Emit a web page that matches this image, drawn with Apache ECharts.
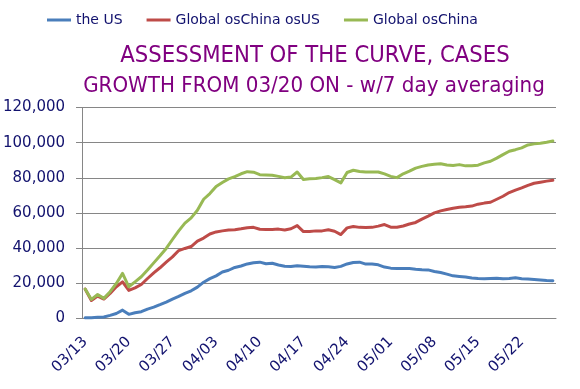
<!DOCTYPE html>
<html><head><meta charset="utf-8">
<script src="https://cdn.jsdelivr.net/npm/echarts@6/dist/echarts.min.js"></script>
<style>html,body{margin:0;padding:0;background:#fff}#c{width:580px;height:389px}</style>
</head><body><div id="c"></div>
<script>
const categories = [
'03/13','03/14','03/15','03/16','03/17','03/18','03/19','03/20','03/21','03/22','03/23','03/24','03/25','03/26','03/27','03/28','03/29','03/30','03/31',
'04/01','04/02','04/03','04/04','04/05','04/06','04/07','04/08','04/09','04/10','04/11','04/12','04/13','04/14','04/15','04/16','04/17','04/18','04/19','04/20',
'04/21','04/22','04/23','04/24','04/25','04/26','04/27','04/28','04/29','04/30',
'05/01','05/02','05/03','05/04','05/05','05/06','05/07','05/08','05/09','05/10','05/11','05/12','05/13','05/14','05/15','05/16','05/17','05/18','05/19','05/20',
'05/21','05/22','05/23','05/24','05/25','05/26','05/27'];
const seriesNames = ['the US', 'Global osChina osUS', 'Global osChina'];
const usValues = [400,400,600,800,1700,2800,4700,2300,3200,3800,
5300,6400,7800,9300,11000,12500,14200,15700,17800,20600,
22600,24200,26400,27400,29000,29800,31000,31700,32000,31100,
31400,30400,29700,29500,29900,29700,29400,29200,29500,29400,
29000,29600,31000,31800,32000,30900,30900,30500,29200,28600,
28400,28400,28400,28000,27700,27600,26700,26100,25200,24200,
23900,23600,23000,22700,22500,22700,22900,22600,22700,23100,
22600,22400,22200,21900,21600,21400];
const globalExChinaExUsValues = [16700,10200,12700,11000,14200,18000,20800,15900,17400,19300,
22700,25900,28800,32000,35000,38600,39800,40900,44000,45700,
48000,49200,49800,50300,50500,51000,51600,51800,50700,50600,
50600,50800,50300,51000,52800,49400,49500,49800,49800,50400,
49600,47700,51500,52300,51800,51700,51800,52500,53400,51900,
51900,52600,53700,54600,56500,58200,60000,61200,62000,62700,
63200,63500,63900,65000,65600,66100,67800,69500,71600,73000,
74300,75700,76900,77500,78100,78600];
const globalExChinaValues = [16700,10800,13600,11400,15200,19900,25600,18000,20800,23700,
27500,31600,35600,39800,44900,49800,54200,57200,61500,67800,
71000,75000,77300,79400,80700,82300,83500,83200,81800,81600,
81400,80800,80000,80400,83300,79000,79500,79600,80100,80700,
79000,77100,83000,84300,83600,83300,83300,83300,82200,80800,
80100,82300,83800,85500,86500,87300,87700,88000,87300,87000,
87500,86800,86800,87200,88500,89400,91200,93200,95100,96000,
97000,98700,99300,99600,100200,100900];
const yTicks = [0, 20000, 40000, 60000, 80000, 100000, 120000];
const titleText = 'ASSESSMENT OF THE CURVE, CASES';
const subtitleText = 'GROWTH FROM 03/20 ON - w/7 day averaging';

const colors = ['#4A7EBB', '#BE4B48', '#98B954'];
const labelColor = '#12126E';
const gridColor = '#868686';
const font = "'DejaVu Sans', sans-serif";

const chart = echarts.init(document.getElementById('c'), null, {renderer: 'canvas'});
const valuesList = [usValues, globalExChinaExUsValues, globalExChinaValues];
chart.setOption({
  animation: false,
  backgroundColor: '#fff',
  color: colors,
  graphic: [
    {type: 'text', x: 315, y: 56, scaleX: 0.897,
     style: {x: 0, y: 0, text: titleText, textAlign: 'center', textVerticalAlign: 'middle', fill: '#800080', font: "23.7px " + font}},
    {type: 'text', x: 314, y: 87, scaleX: 0.967,
     style: {x: 0, y: 0, text: subtitleText, textAlign: 'center', textVerticalAlign: 'middle', fill: '#800080', font: "20.6px " + font}}
  ],
  legend: {
    left: 42, top: 8,
    icon: 'rect', itemWidth: 24, itemHeight: 3, itemGap: 24,
    textStyle: {fontFamily: 'DejaVu Sans', fontSize: 14, color: labelColor},
    data: seriesNames
  },
  grid: {left: 81, right: 24, top: 107.5, bottom: 70.6, containLabel: false},
  xAxis: {
    type: 'category', data: categories, boundaryGap: true,
    axisLine: {lineStyle: {color: gridColor, width: 1}},
    axisTick: {interval: 6, length: 6, lineStyle: {color: gridColor}},
    axisLabel: {interval: 6, rotate: 45, margin: 21, fontFamily: 'DejaVu Sans', fontSize: 15, color: labelColor},
    splitLine: {show: false}
  },
  yAxis: {
    type: 'value', min: yTicks[0], max: yTicks[yTicks.length - 1], interval: yTicks[1] - yTicks[0],
    axisLine: {show: true, lineStyle: {color: gridColor, width: 1}},
    axisTick: {show: true, length: 6, lineStyle: {color: gridColor}},
    axisLabel: {margin: 17, fontFamily: 'DejaVu Sans', fontSize: 15, color: labelColor,
      formatter: v => v.toLocaleString('en-US')},
    splitLine: {lineStyle: {color: gridColor, width: 1}}
  },
  series: seriesNames.map((n, k) => ({
    name: n, type: 'line', data: valuesList[k], symbol: 'none',
    lineStyle: {width: 3, color: colors[k], join: 'round', cap: 'round'},
    itemStyle: {color: colors[k]}
  }))
});
</script></body></html>
